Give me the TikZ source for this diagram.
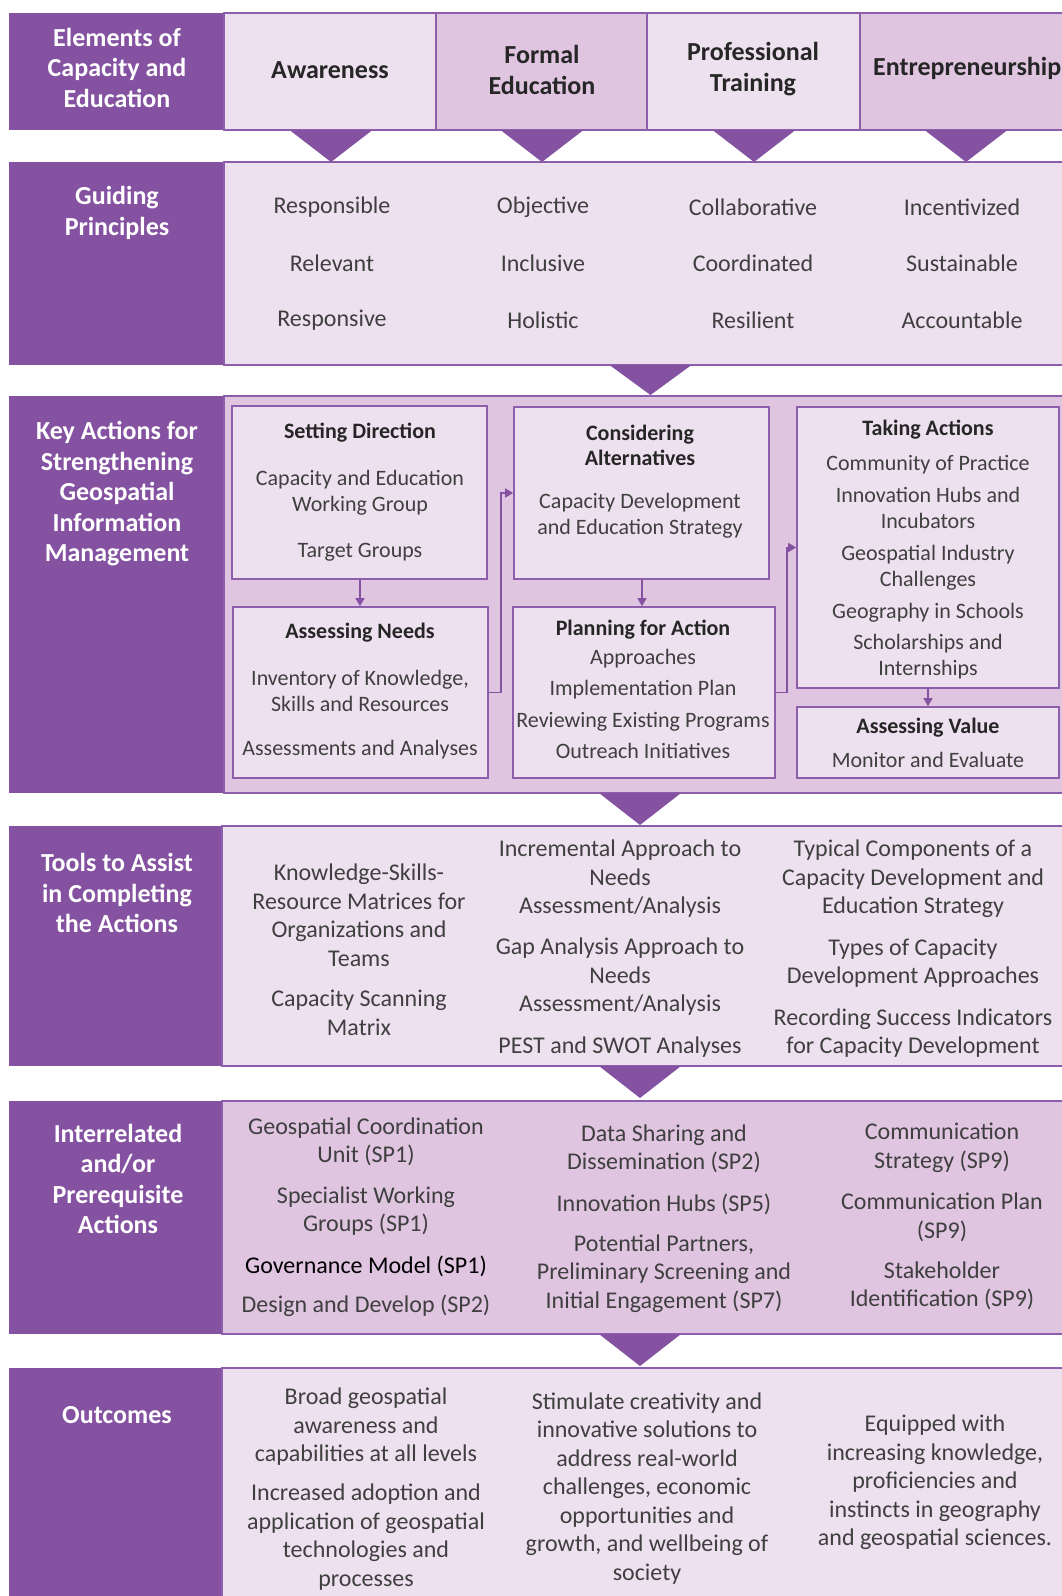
\documentclass[tikz,border=0pt]{standalone}
\usepackage{fontspec}
\setmainfont{Carlito}
\usetikzlibrary{arrows.meta}
\definecolor{dpurple}{HTML}{8452A1}
\definecolor{lightpk}{HTML}{EEE1EF}
\definecolor{midpk}{HTML}{E0C5E1}
\definecolor{bord}{HTML}{8D5EAC}
\definecolor{txt}{HTML}{3F3F3F}
\definecolor{hdtxt}{HTML}{262626}
\begin{document}
\begin{tikzpicture}[x=1pt,y=-1pt,
 leftcol/.style={fill=dpurple},
 panel/.style={draw=bord,line width=1.6pt},
 lab/.style={text=white,font=\fontsize{26}{30.5}\selectfont\bfseries,align=center,inner sep=0},
 hd/.style={text=hdtxt,font=\fontsize{26}{31}\selectfont\bfseries,align=center,inner sep=0},
 gp/.style={text=txt,font=\fontsize{24}{29}\selectfont,inner sep=0},
 kb/.style={text=txt,font=\fontsize{22}{26}\selectfont,align=center,inner sep=0},
 kt/.style={text=hdtxt,font=\fontsize{22}{25}\selectfont\bfseries,align=center,inner sep=0},
 tb/.style={text=txt,font=\fontsize{24}{28.5}\selectfont,align=center,inner sep=0},
 abox/.style={draw=bord,fill=lightpk,line width=1.6pt,inner sep=0,rectangle},
 conn/.style={draw=dpurple,line width=1.5pt,-{Triangle[length=8pt,width=9pt]}},
 tri/.style={fill=dpurple}
]
\useasboundingbox (0,0) rectangle (1062,1596);
\clip (0,0) rectangle (1062,1596);
\fill[white] (0,0) rectangle (1062,1596);

% ---------- header row
\fill[leftcol] (9,13) rectangle (224,130);
\draw[panel,fill=lightpk] (224,13) rectangle (436,130);
\draw[panel,fill=midpk] (436,13) rectangle (647,130);
\draw[panel,fill=lightpk] (647,13) rectangle (860,130);
\draw[panel,fill=midpk] (860,13) rectangle (1090,130);
\node[lab] (lElem) at (117,67.5) {Elements of\\Capacity and\\Education};
\node[hd] (hA) at (330,70) {Awareness};
\node[hd] (hF) at (542,69.5) {Formal\\Education};
\node[hd] (hP) at (753,69.5) {Professional\\Training};
\node[hd,anchor=west] (hE) at (873,68) {Entrepreneurship};

% ---------- guiding principles
\fill[leftcol] (9,162) rectangle (224,365);
\draw[panel,fill=lightpk] (224,162) rectangle (1090,365);
\node[lab] (lGuide) at (117,213) {Guiding\\Principles};
\node[gp] (g11) at (332,207) {Responsible};
\node[gp] (g12) at (332,263) {Relevant};
\node[gp] (g13) at (332,320) {Responsive};
\node[gp] (g21) at (543,207) {Objective};
\node[gp] (g22) at (543,263) {Inclusive};
\node[gp] (g23) at (543,320) {Holistic};
\node[gp] (g31) at (753,207) {Collaborative};
\node[gp] (g32) at (753,263) {Coordinated};
\node[gp] (g33) at (753,320) {Resilient};
\node[gp] (g41) at (962,207) {Incentivized};
\node[gp] (g42) at (962,263) {Sustainable};
\node[gp] (g43) at (962,320) {Accountable};

% ---------- key actions
\fill[leftcol] (9,396) rectangle (224,793);
\draw[panel,fill=midpk] (224,396) rectangle (1090,793);
\node[lab] (lKey) at (117,494) {Key Actions for\\Strengthening\\Geospatial\\Information\\Management};

\node[abox,minimum width=255pt,minimum height=173pt] (SD) at (359.5,492.5) {};
\node[abox,minimum width=255pt,minimum height=171pt] (AN) at (360.5,692.5) {};
\node[abox,minimum width=255pt,minimum height=172pt] (CA) at (641.5,493) {};
\node[abox,minimum width=262pt,minimum height=171pt] (PA) at (644,692.5) {};
\node[abox,minimum width=262pt,minimum height=281pt] (TA) at (928,547.5) {};
\node[abox,minimum width=262pt,minimum height=71pt] (AV) at (928,742.5) {};

\node[kt] (sdT) at (360,433) {Setting Direction};
\node[kb] (sd1) at (360,493) {Capacity and Education\\Working Group};
\node[kb] (sd2) at (360,552) {Target Groups};

\node[kt] (anT) at (360,633) {Assessing Needs};
\node[kb] (an1) at (360,691) {Inventory of Knowledge,\\Skills and Resources};
\node[kb] (an2) at (360,750) {Assessments and Analyses};

\node[kt] (caT) at (640,445) {Considering\\Alternatives};
\node[kb] (ca1) at (640,516) {Capacity Development\\and Education Strategy};

\node[kt] (paT) at (643,630) {Planning for Action};
\node[kb,font=\fontsize{22}{31.5}\selectfont] (pa1) at (643,704) {Approaches\\Implementation Plan\\Reviewing Existing Programs\\Outreach Initiatives};

\node[kt] (taT) at (928,430) {Taking Actions};
\node[kb] (ta1) at (928,567) {Community of Practice\\[6pt]Innovation Hubs and\\Incubators\\[6pt]Geospatial Industry\\Challenges\\[6pt]Geography in Schools\\[5pt]Scholarships and\\Internships};

\node[kt] (avT) at (928,728) {Assessing Value};
\node[kb] (av1) at (928,760) {Monitor and Evaluate};

\draw[conn] (SD.south -| 360,0) -- (AN.north -| 360,0);
\draw[conn] (AN.east) -- ++(12,0) |- (CA.west);
\draw[conn] (CA.south -| 642,0) -- (PA.north -| 642,0);
\draw[conn] (PA.east) -- ++(11,0) |- (TA.west);
\draw[conn] (TA.south) -- (AV.north);

% ---------- tools
\fill[leftcol] (9,826) rectangle (222,1066);
\draw[panel,fill=lightpk] (222,826) rectangle (1090,1066);
\node[lab] (lTools) at (117,893) {Tools to Assist\\in Completing\\the Actions};
\node[tb] (t11) at (359,915) {Knowledge-Skills-\\Resource Matrices for\\Organizations and\\Teams};
\node[tb] (t12) at (359,1013) {Capacity Scanning\\Matrix};
\node[tb] (t21) at (620,879) {Incremental Approach to\\Needs\\Assessment/Analysis};
\node[tb] (t22) at (620,977) {Gap Analysis Approach to\\Needs\\Assessment/Analysis};
\node[tb] (t23) at (620,1047) {PEST and SWOT Analyses};
\node[tb] (t31) at (913,879) {Typical Components of a\\Capacity Development and\\Education Strategy};
\node[tb] (t32) at (913,963) {Types of Capacity\\Development Approaches};
\node[tb] (t33) at (913,1033) {Recording Success Indicators\\for Capacity Development};

% ---------- interrelated
\fill[leftcol] (9,1101) rectangle (222,1334);
\draw[panel,fill=midpk] (222,1101) rectangle (1090,1334);
\node[lab] (lInter) at (118,1179) {Interrelated\\and/or\\Prerequisite\\Actions};
\node[tb] (i11) at (366,1142) {Geospatial Coordination\\Unit (SP1)};
\node[tb] (i12) at (366,1211) {Specialist Working\\Groups (SP1)};
\node[tb,text=black] (i13) at (366,1266) {Governance Model (SP1)};
\node[tb] (i14) at (366,1306) {Design and Develop (SP2)};
\node[tb] (i21) at (664,1149) {Data Sharing and\\Dissemination (SP2)};
\node[tb] (i22) at (664,1204) {Innovation Hubs (SP5)};
\node[tb] (i23) at (664,1273.5) {Potential Partners,\\Preliminary Screening and\\Initial Engagement (SP7)};
\node[tb] (i31) at (942,1147.5) {Communication\\Strategy (SP9)};
\node[tb] (i32) at (942,1217.5) {Communication Plan\\(SP9)};
\node[tb] (i33) at (942,1286) {Stakeholder\\Identification (SP9)};

% ---------- outcomes
\fill[leftcol] (9,1368) rectangle (222,1620);
\draw[panel,fill=lightpk] (222,1368) rectangle (1090,1620);
\node[lab] (lOut) at (117,1415) {Outcomes};
\node[tb] (o11) at (366,1427) {Broad geospatial\\awareness and\\capabilities at all levels};
\node[tb] (o12) at (366,1537) {Increased adoption and\\application of geospatial\\technologies and\\processes};
\node[tb] (o2) at (647,1488.5) {Stimulate creativity and\\innovative solutions to\\address real-world\\challenges, economic\\opportunities and\\growth, and wellbeing of\\society};
\node[tb] (o3) at (935,1482.5) {Equipped with\\increasing knowledge,\\proficiencies and\\instincts in geography\\and geospatial sciences.};

% ---------- connecting triangles
\foreach \c in {331,542,754,966}
  \fill[tri] (\c-41.5,130) -- (\c+41.5,130) -- (\c,162) -- cycle;
\fill[tri] (609.5,365) -- (691.5,365) -- (650.5,395) -- cycle;
\fill[tri] (599,793) -- (681,793) -- (640,825) -- cycle;
\fill[tri] (599,1066) -- (681,1066) -- (640,1098) -- cycle;
\fill[tri] (599,1334) -- (681,1334) -- (640,1366) -- cycle;
\end{tikzpicture}
\end{document}
